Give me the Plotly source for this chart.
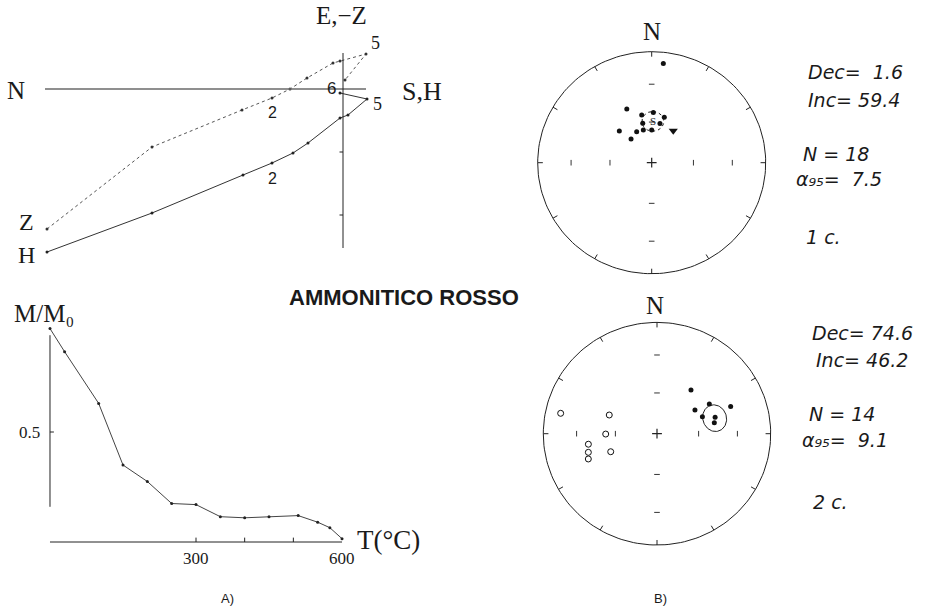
import math
import plotly.graph_objects as go

W, H = 933, 608

# ---------------- data ----------------
# Zijderveld diagram (arbitrary intensity units); horizontal projection (H) and vertical projection (Z)
zh_x = [-29.6, -19.1, -10.0, -7.1, -5.0, -3.5, -0.3, 0.5, 2.4, -0.3]
zh_y = [-16.3, -12.4, -8.6, -7.4, -6.4, -5.4, -2.9, -2.6, -1.0, -0.4]
zv_x = [-29.6, -19.1, -10.1, -7.1, -5.3, -3.6, -1.0, -0.3, 2.3, 0.2]
zv_y = [-14.0, -5.8, -2.1, -0.9, 0.0, 1.1, 2.6, 2.8, 3.5, 0.9]

# thermal demagnetization curve
temp_c = [0, 30, 100, 150, 200, 250, 300, 350, 400, 450, 510, 550, 575, 600]
m_m0 = [0.97, 0.865, 0.63, 0.35, 0.275, 0.175, 0.17, 0.115, 0.11, 0.115, 0.12, 0.09, 0.065, 0.015]
t_ticks = [300, 600]
t_tick_labels = ["300", "600"]
m_tick = 0.5

# stereonet 1 (1 c.)
dec1 = [6.5, 335.7, 348.5, 1.8, 15.1, 347.5, 315.2, 334.7, 346.0, 0.0, 319.6, 11.6]
inc1 = [10.9, 45.9, 53.8, 52.6, 55.1, 60.2, 56.9, 64.8, 65.2, 66.0, 67.2, 60.4]
dec1_tri = [33.3]
inc1_tri = [61.8]
mean1 = dict(dec=1.6, inc=59.4, n=18, a95=7.5)

# stereonet 2 (2 c.)
dec2_down = [37.3, 57.5, 59.9, 69.4, 69.0, 73.9, 78.9]
inc2_down = [49.2, 57.5, 45.8, 31.4, 54.8, 45.8, 47.4]
dec2_up = [282.2, 291.8, 269.6, 261.1, 254.5, 249.4, 248.3]
inc2_up = [-14.4, -52.7, -52.8, -38.8, -37.4, -35.7, -53.9]
mean2 = dict(dec=74.6, inc=46.2, n=14, a95=9.1)

# ---------------- helpers ----------------
def px(x):
    return x / W

def py(y):
    return 1 - y / H

def proj(dec, inc):
    r = math.sqrt(2) * math.sin(math.radians(90 - abs(inc)) / 2)
    d = math.radians(dec)
    return r * math.sin(d), r * math.cos(d)

def proj_list(decs, incs):
    xs, ys = [], []
    for d, i in zip(decs, incs):
        x, y = proj(d, i)
        xs.append(x)
        ys.append(y)
    return xs, ys

def small_circle(dec, inc, a95, n=90):
    D, I, a = math.radians(dec), math.radians(inc), math.radians(a95)
    m = (math.cos(I) * math.cos(D), math.cos(I) * math.sin(D), math.sin(I))
    u = (math.sin(I) * math.cos(D), math.sin(I) * math.sin(D), -math.cos(I))
    v = (-math.sin(D), math.cos(D), 0.0)
    xs, ys = [], []
    for k in range(n + 1):
        t = 2 * math.pi * k / n
        p = [math.cos(a) * m[j] + math.sin(a) * (math.cos(t) * u[j] + math.sin(t) * v[j]) for j in range(3)]
        dd = math.degrees(math.atan2(p[1], p[0]))
        ii = math.degrees(math.asin(max(-1, min(1, p[2]))))
        x, y = proj(dd, ii)
        xs.append(x)
        ys.append(y)
    return xs, ys

SERIF = "Liberation Serif"
SANS = "Liberation Sans"
DJ = "DejaVu Sans"
INK = "#1a1a1a"

fig = go.Figure()
annotations = []
shapes = []

def ann(text, x, y, size, family=SERIF, xanchor="center", yanchor="middle",
        xref="paper", yref="paper", italic=False, color=INK):
    annotations.append(dict(
        text=text, x=x, y=y, xref=xref, yref=yref, showarrow=False,
        xanchor=xanchor, yanchor=yanchor,
        font=dict(family=family, size=size, color=color,
                  style="italic" if italic else "normal")))

# ---------------- Zijderveld ----------------
shapes.append(dict(type="line", xref="x", yref="y", x0=-29.8, x1=2.3, y0=0, y1=0,
                   line=dict(color="#6a6a6a", width=1.6)))
shapes.append(dict(type="line", xref="x", yref="y", x0=0, x1=0, y0=3.6, y1=-15.9,
                   line=dict(color="#222", width=1)))
for ty in [-6.3, -12.6]:
    shapes.append(dict(type="line", xref="x", yref="y", x0=-0.35, x1=0, y0=ty, y1=ty,
                       line=dict(color="#222", width=1)))

fig.add_trace(go.Scatter(x=zh_x, y=zh_y, xaxis="x", yaxis="y", mode="lines+markers",
                         line=dict(color="#333", width=1),
                         marker=dict(size=3, color="#222"), showlegend=False, hoverinfo="skip"))
fig.add_trace(go.Scatter(x=zv_x, y=zv_y, xaxis="x", yaxis="y", mode="lines+markers",
                         line=dict(color="#555", width=1, dash="dot"),
                         marker=dict(size=3, color="#333"), showlegend=False, hoverinfo="skip"))

ann("E,−Z", px(341), py(16), 25)
ann("N", px(16), py(90), 25)
ann("S,H", px(422), py(91), 26)
ann("Z", px(26), py(222), 24)
ann("H", px(26), py(255), 24)
ann("5", px(375), py(43), 18)
ann("6", px(331), py(89), 17, family=SANS)
ann("5", px(377), py(104), 18)
ann("2", px(272), py(112), 16, family=SANS)
ann("2", px(272), py(178), 16, family=SANS)

ann("<b>AMMONITICO ROSSO</b>", px(404), py(297.5), 22, family=SANS)

# ---------------- demagnetization curve ----------------
shapes.append(dict(type="line", xref="x2", yref="y2", x0=0, x1=600, y0=0, y1=0,
                   line=dict(color="#222", width=1)))
shapes.append(dict(type="line", xref="x2", yref="y2", x0=0, x1=0, y0=0.16, y1=0.94,
                   line=dict(color="#222", width=1)))
shapes.append(dict(type="line", xref="x2", yref="y2", x0=0, x1=8, y0=m_tick, y1=m_tick,
                   line=dict(color="#222", width=1)))
for tt in [300, 400, 500]:
    shapes.append(dict(type="line", xref="x2", yref="y2", x0=tt, x1=tt, y0=0, y1=0.02,
                       line=dict(color="#222", width=1)))

fig.add_trace(go.Scatter(x=temp_c, y=m_m0, xaxis="x2", yaxis="y2", mode="lines+markers",
                         line=dict(color="#444", width=1),
                         marker=dict(size=3, color="#222"), showlegend=False, hoverinfo="skip"))

for tv, tl in zip(t_ticks, t_tick_labels):
    ann(tl, tv, py(558), 17, xref="x2")
ann(f"{m_tick}", px(29), m_tick, 17, yref="y2")
ann("M/M₀", px(44), py(313), 25)
ann("T(°C)", px(388), py(540), 27)
ann("A)", px(227), py(598), 13, family=SANS)

# ---------------- stereonets ----------------
circ_x = [math.sin(math.radians(a)) for a in range(0, 361, 2)]
circ_y = [math.cos(math.radians(a)) for a in range(0, 361, 2)]
tick_x, tick_y = [], []
for a in range(0, 360, 30):
    s, c = math.sin(math.radians(a)), math.cos(math.radians(a))
    tick_x += [0.955 * s, s, None]
    tick_y += [0.955 * c, c, None]
r60 = proj(0, 60)[1]
r30 = proj(0, 30)[1]

def stereonet(xa, ya, mean, down_dec, down_inc, up_dec=None, up_inc=None,
              tri_dec=None, tri_inc=None, dash="solid", label_s=True):
    fig.add_trace(go.Scatter(x=circ_x, y=circ_y, xaxis=xa, yaxis=ya, mode="lines",
                             line=dict(color="#222", width=1), showlegend=False, hoverinfo="skip"))
    fig.add_trace(go.Scatter(x=tick_x, y=tick_y, xaxis=xa, yaxis=ya, mode="lines",
                             line=dict(color="#222", width=1), showlegend=False, hoverinfo="skip"))
    fig.add_trace(go.Scatter(x=[0, 0, 0, 0], y=[r60, r30, -r60, -r30], xaxis=xa, yaxis=ya,
                             mode="markers", marker=dict(symbol="line-ew", size=4,
                                                         line=dict(color="#333", width=1)),
                             showlegend=False, hoverinfo="skip"))
    fig.add_trace(go.Scatter(x=[r60, r30, -r60, -r30], y=[0, 0, 0, 0], xaxis=xa, yaxis=ya,
                             mode="markers", marker=dict(symbol="line-ns", size=4,
                                                         line=dict(color="#333", width=1)),
                             showlegend=False, hoverinfo="skip"))
    fig.add_trace(go.Scatter(x=[0], y=[0], xaxis=xa, yaxis=ya, mode="markers",
                             marker=dict(symbol="cross-thin", size=7,
                                         line=dict(color="#222", width=1.2)),
                             showlegend=False, hoverinfo="skip"))
    cx, cy = small_circle(mean["dec"], mean["inc"], mean["a95"])
    fig.add_trace(go.Scatter(x=cx, y=cy, xaxis=xa, yaxis=ya, mode="lines",
                             line=dict(color="#222", width=1, dash=dash),
                             showlegend=False, hoverinfo="skip"))
    dx, dy = proj_list(down_dec, down_inc)
    fig.add_trace(go.Scatter(x=dx, y=dy, xaxis=xa, yaxis=ya, mode="markers",
                             marker=dict(size=5, color="#111"), cliponaxis=False,
                             showlegend=False, hoverinfo="skip"))
    if up_dec:
        ux, uy = proj_list(up_dec, up_inc)
        fig.add_trace(go.Scatter(x=ux, y=uy, xaxis=xa, yaxis=ya, mode="markers",
                                 marker=dict(size=6, color="white",
                                             line=dict(color="#111", width=1)),
                                 cliponaxis=False, showlegend=False, hoverinfo="skip"))
    if tri_dec:
        tx, ty = proj_list(tri_dec, tri_inc)
        fig.add_trace(go.Scatter(x=tx, y=ty, xaxis=xa, yaxis=ya, mode="markers",
                                 marker=dict(symbol="triangle-down", size=8, color="#111"),
                                 showlegend=False, hoverinfo="skip"))
    if label_s:
        mx, my = proj(mean["dec"], mean["inc"])
        ann("S", mx, my, 11, xref=xa, yref=ya)

stereonet("x3", "y3", mean1, dec1, inc1, tri_dec=dec1_tri, tri_inc=inc1_tri, dash="dot")
stereonet("x4", "y4", mean2, dec2_down, inc2_down, up_dec=dec2_up, up_inc=inc2_up,
          dash="solid", label_s=False)

ann("N", px(652), py(32), 25)
ann("N", px(655), py(305), 25)

FS = 19
ann(f"Dec=  {mean1['dec']}", px(855), py(72), FS, family=DJ, italic=True)
ann(f"Inc= {mean1['inc']}", px(854), py(100), FS, family=DJ, italic=True)
ann(f"N = {mean1['n']}", px(836), py(154), FS, family=DJ, italic=True)
ann(f"α₉₅=  {mean1['a95']}", px(839), py(179), FS, family=DJ, italic=True)
ann("1 c.", px(823), py(237), FS, family=DJ, italic=True)

ann(f"Dec= {mean2['dec']}", px(862), py(333), FS, family=DJ, italic=True)
ann(f"Inc= {mean2['inc']}", px(862), py(360), FS, family=DJ, italic=True)
ann(f"N = {mean2['n']}", px(842), py(414), FS, family=DJ, italic=True)
ann(f"α₉₅=  {mean2['a95']}", px(845), py(440), FS, family=DJ, italic=True)
ann("2 c.", px(830), py(502), FS, family=DJ, italic=True)

ann("B)", px(660), py(598), 13, family=SANS)

# ---------------- layout ----------------
def hid(**kw):
    d = dict(visible=False, showgrid=False, zeroline=False, fixedrange=True)
    d.update(kw)
    return d

S = 1.1
layout = dict(
    width=W, height=H, margin=dict(l=0, r=0, t=0, b=0),
    paper_bgcolor="white", plot_bgcolor="rgba(0,0,0,0)", showlegend=False,
    xaxis=hid(domain=[0, px(460)], range=[-34.3, 11.7], anchor="y"),
    yaxis=hid(domain=[py(270), 1], range=[-18.1, 8.9], anchor="x"),
    xaxis2=hid(domain=[0, px(460)], range=[-102.7, 842.4], anchor="y2"),
    yaxis2=hid(domain=[py(580), py(300)], range=[-0.1727, 1.1], anchor="x2"),
    xaxis3=hid(domain=[px(651.7 - 114 * S), px(651.7 + 114 * S)], range=[-S, S], anchor="y3"),
    yaxis3=hid(domain=[py(162.7 + 111 * S), py(162.7 - 111 * S)], range=[-S, S], anchor="x3"),
    xaxis4=hid(domain=[px(657 - 113.7 * S), px(657 + 113.7 * S)], range=[-S, S], anchor="y4"),
    yaxis4=hid(domain=[py(433.7 + 111.3 * S), py(433.7 - 111.3 * S)], range=[-S, S], anchor="x4"),
    annotations=annotations, shapes=shapes,
)
fig.update_layout(**layout)
fig.write_html("out.html", config={"displayModeBar": False},
               post_script="document.body.style.margin='0';document.body.style.overflow='hidden';")
